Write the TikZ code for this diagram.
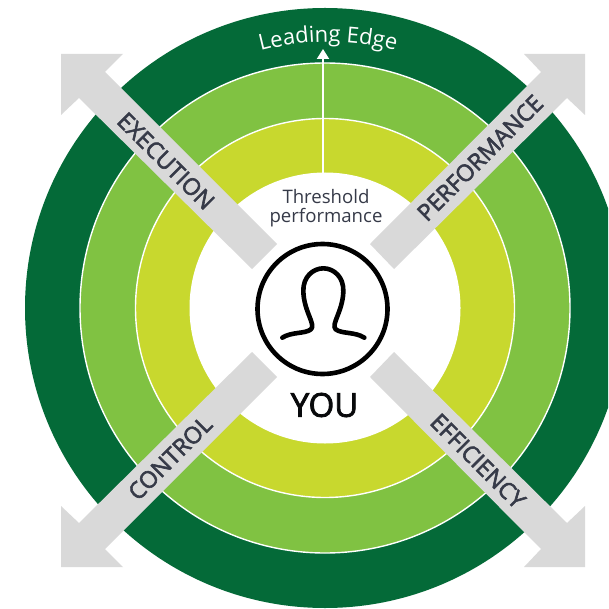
\documentclass[tikz,border=0pt]{standalone}
\usepackage{fontspec}
\setmainfont{Open Sans}
\newfontfamily\heavyfont[FakeBold=2.5]{Open Sans}
\usetikzlibrary{arrows.meta,decorations.text}
\definecolor{darkg}{HTML}{046A38}
\definecolor{midg}{HTML}{80C242}
\definecolor{limeg}{HTML}{C8D82E}
\definecolor{greyarrow}{HTML}{D9D9D9}
\definecolor{inkc}{HTML}{363A48}
\tikzset{
  ring/.style={draw=white,line width=1.4pt},
  bigarrow/.style={fill=greyarrow,draw=none},
  axislabel/.style={font=\heavyfont\fontsize{23.2}{23.2}\selectfont,text=inkc,inner sep=0pt,anchor=center},
  iconline/.style={draw=black,line width=4.6pt,line cap=round,line join=round}
}
\begin{document}
\begin{tikzpicture}[x=1pt,y=-1pt]
\useasboundingbox (0,0) rectangle (608,609);
\clip (0,0) rectangle (608,609);
\coordinate (c) at (325,308);
% rings
\fill[darkg] (c) circle[radius=300pt];
\path[ring,fill=midg] (c) circle[radius=245pt];
\path[ring,fill=limeg] (c) circle[radius=189.5pt];
\fill[white] (c) circle[radius=135.5pt];
% leading edge arrow
\coordinate (lineStart) at (323,173);
\coordinate (lineEnd) at (323,49);
\draw[white,line width=2pt,-{Triangle[width=12pt,length=10pt]}] (lineStart) -- (lineEnd);
% grey arrows
\path[bigarrow] (277,244) -- (105,72) -- (123,54) -- (61,54) -- (61,115) -- (79,98) -- (252,269) -- cycle;
\path[bigarrow] (370,244) -- (541,72) -- (524,54) -- (585,54) -- (585,115) -- (567,98) -- (394,269) -- cycle;
\path[bigarrow] (277,377) -- (105,549) -- (123,567) -- (61,567) -- (61,506) -- (79,523) -- (252,352) -- cycle;
\path[bigarrow] (370,377) -- (541,549) -- (524,567) -- (585,567) -- (585,506) -- (567,523) -- (394,352) -- cycle;
% axis labels
\node[axislabel,rotate=-45] (execution) at (166,161) {EXECUTION};
\node[axislabel,rotate=45] (performance) at (480,158) {PERFORMANCE};
\node[axislabel,rotate=45] (control) at (170,458) {CONTROL};
\node[axislabel,rotate=-45] (efficiency) at (478,461) {EFFICIENCY};
% centre texts
\node[font=\fontsize{18.6}{19}\selectfont,text=inkc,align=center,inner sep=0pt] (threshold) at (326,208) {Threshold\\performance};
\node[font=\heavyfont\fontsize{33}{33}\selectfont,text=black!85!inkc,inner sep=0pt] (you) at (324.5,405) {YOU};
% icon
\node[circle,draw=black,line width=4.6pt,minimum size=130pt,inner sep=0pt] (icon) at (322.5,309) {};
\begin{scope}[shift={(230,230)},x=0.33333pt,y=-0.33333pt]
\path[iconline] (157,323) .. controls (185,305) and (225,312) .. (243,298)
  .. controls (258,283) and (222,245) .. (220,185)
  .. controls (218,140) and (250,115) .. (280,115)
  .. controls (310,115) and (342,140) .. (340,185)
  .. controls (338,245) and (302,283) .. (317,298)
  .. controls (335,312) and (375,305) .. (403,323);
\end{scope}
% curved label
\path[decorate,decoration={text along path,text align=center,
  text={|\fontsize{22}{22}\selectfont\color{white}|Leading Edge}}]
  (250.5,53.6) .. controls (301,38.2) and (355,38.2) .. (405.5,53.6);
\end{tikzpicture}
\end{document}
